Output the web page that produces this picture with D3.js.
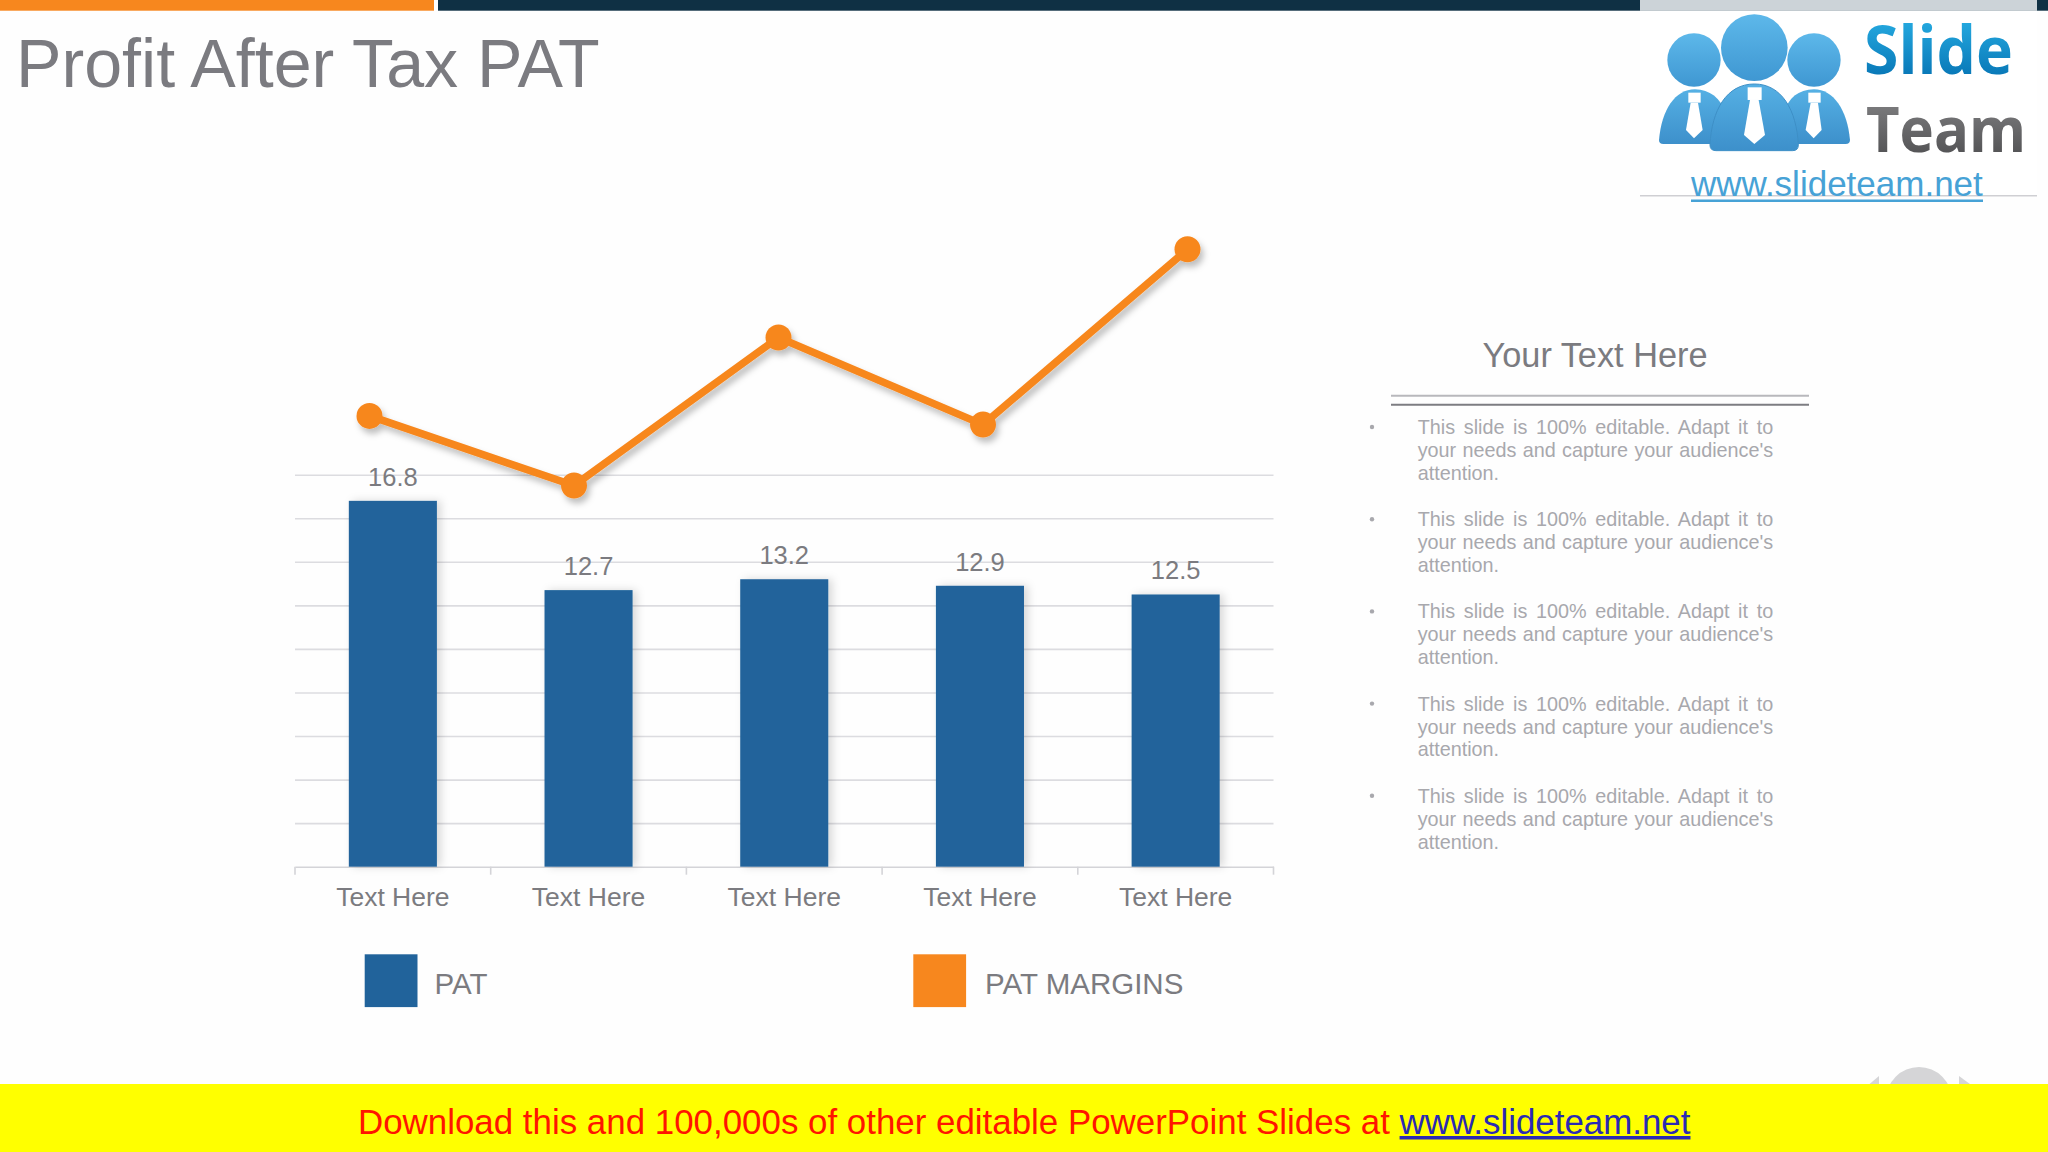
<!DOCTYPE html>
<html>
<head>
<meta charset="utf-8">
<title>Profit After Tax PAT</title>
<script src="https://cdn.jsdelivr.net/npm/d3@7"></script>
<style>
    html, body { margin: 0; padding: 0; background: #fefefe; overflow: hidden; }
    svg { display: block; }
    text { font-family: "Liberation Sans", Arial, sans-serif; }
</style>
</head>
<body>
<svg id="root" width="2048" height="1152"></svg>
<script>
//Chart data
const categories = ["Text Here", "Text Here", "Text Here", "Text Here", "Text Here"];
const categoryKeys = ["a", "b", "c", "d", "e"];
const patValues = [16.8, 12.7, 13.2, 12.9, 12.5];
const marginValues = [20.7, 17.5, 24.3, 20.3, 28.35]; //no labels in the picture, read against the bar scale
const gridTicks = [0, 2, 4, 6, 8, 10, 12, 14, 16, 18];
const legendLabels = ["PAT", "PAT MARGINS"];

//Side panel text
const panelTitle = "Your Text Here";
const bulletLines = [
    "This slide is 100% editable. Adapt it to",
    "your needs and capture your audience's",
    "attention."
];
const bulletCount = [0, 1, 2, 3, 4];

const blue = "#21639b";
const orange = "#f7871e";
const labelGrey = "#7b7b80";
const gridGrey = "#dcdce0";

const svg = d3.select("#root");

//Shadows
const defs = svg.append("defs");
defs.append("filter").attr("id", "barShadow")
    .attr("x", "-20%").attr("y", "-5%").attr("width", "150%").attr("height", "110%")
    .append("feDropShadow")
    .attr("dx", 4).attr("dy", 0).attr("stdDeviation", 4)
    .attr("flood-color", "#000").attr("flood-opacity", 0.15);
defs.append("filter").attr("id", "lineShadow")
    .attr("x", "-10%").attr("y", "-10%").attr("width", "120%").attr("height", "130%")
    .append("feDropShadow")
    .attr("dx", 3).attr("dy", 5).attr("stdDeviation", 3)
    .attr("flood-color", "#000").attr("flood-opacity", 0.25);

//Logo gradients
function addGradient(id, top, bottom) {
    const g = defs.append("linearGradient").attr("id", id)
        .attr("x1", 0).attr("y1", 0).attr("x2", 0).attr("y2", 1);
    g.append("stop").attr("offset", "0%").attr("stop-color", top);
    g.append("stop").attr("offset", "100%").attr("stop-color", bottom);
}
addGradient("slideFill", "#2db8ec", "#0069ab");
addGradient("teamFill", "#8a8a8c", "#48484a");
addGradient("headFill", "#5db8ea", "#3f97d2");
addGradient("bodyFill", "#55b0e4", "#3d90cb");

//Scales
const left = 295, right = 1273.5, base = 866.7, top18 = 474.7;
const x = d3.scaleBand().domain(categoryKeys).range([left, right]).paddingInner(0.55).paddingOuter(0.275);
const y = d3.scaleLinear().domain([0, 18]).range([base, top18]);
const xLine = d3.scalePoint().domain(categoryKeys).range([369.5, 1187.5]);

//Top stripes
const stripes = svg.append("g");
stripes.append("rect").attr("x", 0).attr("y", 0).attr("width", 434).attr("height", 10.7).attr("fill", "#f7871e");
stripes.append("rect").attr("x", 438).attr("y", 0).attr("width", 1610).attr("height", 10.7).attr("fill", "#0f3044");
stripes.append("rect").attr("x", 1640).attr("y", 0).attr("width", 397).attr("height", 10.7).attr("fill", "#ccd3d8");

//Title
svg.append("text").attr("x", 16).attr("y", 87)
    .attr("font-size", 68.2).attr("fill", "#7b7b80")
    .text("Profit After Tax PAT");

//Gridlines
const grid = svg.append("g").attr("transform", `translate(${left}, 0)`)
    .call(d3.axisLeft(y).tickValues(gridTicks.slice(1)).tickSize(-(right - left)).tickFormat(""));
grid.select(".domain").remove();
grid.selectAll("line").attr("stroke", gridGrey).attr("stroke-width", 1.6);

//X axis, labels sit on the bands
const xAxis = svg.append("g").attr("transform", `translate(0, ${base})`)
    .call(d3.axisBottom(x).tickSize(0).tickPadding(20).tickFormat((d, i) => categories[i]));
xAxis.select(".domain").attr("stroke", "#d4d4d8").attr("stroke-width", 1.6);
xAxis.selectAll("text")
    .attr("font-size", 26.5).attr("fill", labelGrey)
    .style("font-family", '"Liberation Sans", Arial, sans-serif');

//Tick marks between the bands
const tickEdges = d3.range(categoryKeys.length + 1).map(i => left + i * x.step());
svg.append("g").selectAll("line").data(tickEdges).enter().append("line")
    .attr("x1", d => d).attr("x2", d => d)
    .attr("y1", base).attr("y2", base + 8)
    .attr("stroke", "#d4d4d8").attr("stroke-width", 1.6);

//Bars
svg.append("g").selectAll("rect").data(patValues).enter().append("rect")
    .attr("x", (d, i) => x(categoryKeys[i]))
    .attr("y", d => y(d))
    .attr("width", x.bandwidth())
    .attr("height", d => base - y(d))
    .attr("fill", blue)
    .attr("filter", "url(#barShadow)");

//Bar labels
svg.append("g").selectAll("text").data(patValues).enter().append("text")
    .attr("x", (d, i) => x(categoryKeys[i]) + x.bandwidth() / 2)
    .attr("y", d => y(d) - 15)
    .attr("text-anchor", "middle")
    .attr("font-size", 25.5).attr("fill", labelGrey)
    .text(d => d.toFixed(1));

//Margin line
const line = d3.line().x((d, i) => xLine(categoryKeys[i])).y(d => y(d));
const lineGroup = svg.append("g").attr("filter", "url(#lineShadow)");
lineGroup.append("path").datum(marginValues)
    .attr("d", line).attr("fill", "none")
    .attr("stroke", orange).attr("stroke-width", 7.5);
lineGroup.selectAll("circle").data(marginValues).enter().append("circle")
    .attr("cx", (d, i) => xLine(categoryKeys[i]))
    .attr("cy", d => y(d))
    .attr("r", 13)
    .attr("fill", orange);

//Legend
const legendSwatch = [blue, orange];
const legendX = [364.7, 913.3];
const legendTextX = [434.6, 985];
const legend = svg.append("g");
legend.selectAll("rect").data(legendLabels).enter().append("rect")
    .attr("x", (d, i) => legendX[i]).attr("y", 954.3)
    .attr("width", 52.8).attr("height", 52.8)
    .attr("fill", (d, i) => legendSwatch[i]);
legend.selectAll("text").data(legendLabels).enter().append("text")
    .attr("x", (d, i) => legendTextX[i]).attr("y", 994)
    .attr("font-size", 29.5).attr("fill", labelGrey)
    .text(d => d);

//Side panel
svg.append("text").attr("x", 1595).attr("y", 367.3)
    .attr("text-anchor", "middle").attr("font-size", 34.3).attr("fill", labelGrey)
    .text(panelTitle);
svg.append("line").attr("x1", 1391).attr("x2", 1809).attr("y1", 395.7).attr("y2", 395.7)
    .attr("stroke", "#b8b8bc").attr("stroke-width", 2);
svg.append("line").attr("x1", 1391).attr("x2", 1809).attr("y1", 404.7).attr("y2", 404.7)
    .attr("stroke", "#7d7d82").attr("stroke-width", 2);

const panel = svg.append("g");
bulletCount.forEach(p => {
    const top = 434 + p * 92.2;
    panel.append("circle").attr("cx", 1372).attr("cy", top - 7).attr("r", 2.2).attr("fill", "#a8a8ad");
    bulletLines.forEach((t, i) => {
        const el = panel.append("text")
            .attr("x", 1417.7).attr("y", top + i * 22.9)
            .attr("font-size", 19.8).attr("fill", "#a8a8ad")
            .text(t);
        //Justify the first two lines, the last one stays as it is
        if (i < 2) {
            const extra = 355.5 - el.node().getComputedTextLength();
            el.style("word-spacing", `${extra / (t.split(" ").length - 1)}px`);
        }
    });
});

//Slide navigation ghost, mostly hidden by the banner
const nav = svg.append("g").attr("fill", "#d5d5d7");
nav.append("circle").attr("cx", 1919).attr("cy", 1100).attr("r", 33);
nav.append("path").attr("d", "M1879,1076 L1879,1090 L1866,1087 Z");
nav.append("path").attr("d", "M1959,1076 L1959,1090 L1974,1087 Z");

//Bottom banner
svg.append("rect").attr("x", 0).attr("y", 1084).attr("width", 2048).attr("height", 68).attr("fill", "#ffff00");
const banner = svg.append("text").attr("x", 358).attr("y", 1134).attr("font-size", 34.9).attr("fill", "#ff1500");
banner.append("tspan").text("Download this and 100,000s of other editable PowerPoint Slides at ");
banner.append("tspan").attr("fill", "#2a2ab4").attr("text-decoration", "underline").text("www.slideteam.net");

//Logo, drawn in 3x units
svg.append("rect").attr("x", 1640).attr("y", 10.7).attr("width", 397).attr("height", 185).attr("fill", "#ffffff");
const logo = svg.append("g").attr("transform", "translate(1620, 0) scale(0.3333)");
logo.append("circle").attr("cx", 222).attr("cy", 180).attr("r", 80).attr("fill", "url(#headFill)");
logo.append("circle").attr("cx", 582).attr("cy", 180).attr("r", 80).attr("fill", "url(#headFill)");
logo.append("path").attr("d", "M117,420 C125,330 165,268 225,268 C270,268 300,295 320,340 L320,432 L130,432 Q117,432 117,420 Z").attr("fill", "url(#bodyFill)");
logo.append("path").attr("d", "M690,420 C682,330 640,268 582,268 C535,268 505,295 490,340 L490,432 L677,432 Q690,432 690,420 Z").attr("fill", "url(#bodyFill)");
logo.append("circle").attr("cx", 403).attr("cy", 143).attr("r", 100).attr("fill", "url(#headFill)");
logo.append("path").attr("d", "M270,435 C275,330 320,252 403,252 C485,252 530,330 535,435 Q535,452 518,452 L288,452 Q270,452 270,435 Z")
    .attr("fill", "url(#bodyFill)").attr("stroke", "#3d8fc6").attr("stroke-width", 3);
const tie = logo.append("g").attr("fill", "#ffffff");
tie.append("rect").attr("x", 383).attr("y", 262).attr("width", 42).attr("height", 38);
tie.append("path").attr("d", "M390,300 L416,300 L435,405 L403,432 L372,405 Z");
tie.append("rect").attr("x", 205).attr("y", 278).attr("width", 37).attr("height", 30);
tie.append("path").attr("d", "M212,308 L234,308 L248,390 L222,415 L198,390 Z");
tie.append("rect").attr("x", 565).attr("y", 278).attr("width", 37).attr("height", 30);
tie.append("path").attr("d", "M572,308 L594,308 L605,390 L581,415 L557,390 Z");

svg.append("text").attr("x", 1864).attr("y", 74)
    .attr("font-size", 66).attr("font-weight", 700).attr("fill", "url(#slideFill)")
    .attr("textLength", 149).attr("lengthAdjust", "spacingAndGlyphs")
    .style("font-family", '"Open Sans", sans-serif').text("Slide");
svg.append("text").attr("x", 1866).attr("y", 151.7)
    .attr("font-size", 63).attr("font-weight", 700).attr("fill", "url(#teamFill)")
    .attr("textLength", 160).attr("lengthAdjust", "spacingAndGlyphs")
    .style("font-family", '"Open Sans", sans-serif').text("Team");

//Logo rule and address
svg.append("line").attr("x1", 1640).attr("x2", 2037).attr("y1", 195.7).attr("y2", 195.7)
    .attr("stroke", "#cfcfd3").attr("stroke-width", 1.4);
svg.append("text").attr("x", 1691).attr("y", 196)
    .attr("font-size", 35).attr("fill", "#47a2d6")
    .text("www.slideteam.net");
svg.append("line").attr("x1", 1691).attr("x2", 1983).attr("y1", 200.7).attr("y2", 200.7)
    .attr("stroke", "#47a2d6").attr("stroke-width", 2.6);
</script>
</body>
</html>
